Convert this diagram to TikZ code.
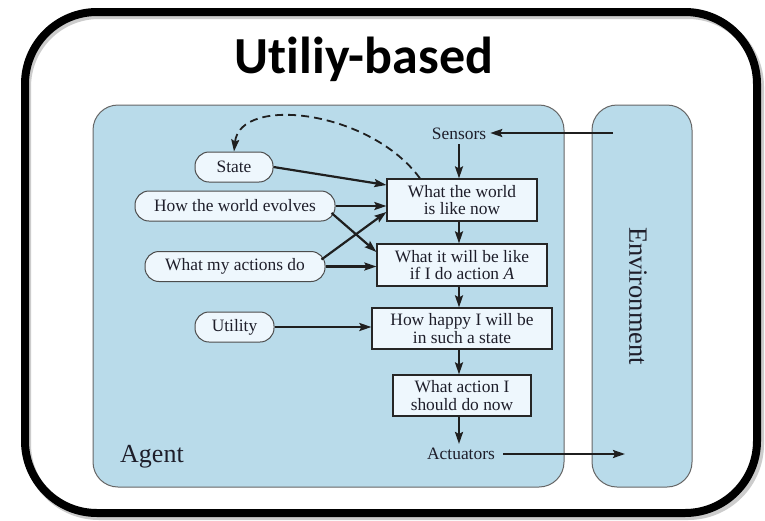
\documentclass[tikz,border=0pt]{standalone}
\usepackage{fontspec}
\setmainfont{Liberation Serif}
\newfontfamily\titlefont[Ligatures=NoCommon]{Carlito}
\usetikzlibrary{arrows.meta}
\definecolor{agentblue}{HTML}{B9DBEA}
\definecolor{nodefill}{HTML}{EEF7FD}
\definecolor{inkc}{HTML}{1E1E2A}
\tikzset{
  frame/.style={line width=8pt, rounded corners=72pt, draw=black},
  panel/.style={fill=agentblue, draw=gray!80!black, line width=1pt, rounded corners=25pt},
  pill/.style={draw=gray!60!black, fill=nodefill, line width=1pt, rounded corners=14pt,
    minimum height=30pt, inner sep=0pt, text=inkc, font=\fontsize{17.4}{18}\selectfont},
  stepbox/.style={draw=black!85, fill=nodefill, line width=1.2pt, inner sep=0pt,
    align=center, text=inkc, font=\fontsize{17.4}{17.5}\selectfont},
  plain/.style={text=inkc, font=\fontsize{17.4}{18}\selectfont, inner sep=0pt},
  arr/.style={-{Stealth[length=12pt,width=8pt,inset=2pt]}, line width=2.2pt, draw=black!88},
  darr/.style={-{Stealth[length=12pt,width=8pt,inset=2pt]}, line width=1.8pt, draw=black!88, dash pattern=on 8pt off 5pt}
}
\begin{document}
\begin{tikzpicture}[x=1pt,y=-1pt]
\useasboundingbox (0,0) rectangle (765,520);
\fill[white] (0,0) rectangle (765,520);
% outer frame with faint shadow
\draw[line width=8pt, rounded corners=72pt, draw=black!20] (27,15) rectangle (760,516);
\draw[frame] (25,12) rectangle (757,513);
\node[font=\titlefont\bfseries\fontsize{52}{56}\selectfont, anchor=base, inner sep=0pt] (title) at (364,73) {Utiliy-based};

% panels
\draw[panel] (93,105) rectangle (564,487);
\draw[panel] (592,105) rectangle (692,487);
\node[plain, font=\fontsize{26}{28}\selectfont, anchor=base west] (agent) at (120,462) {Agent};
\node[plain, font=\fontsize{26.4}{28}\selectfont, rotate=-90] (env) at (638,296) {Environment};

% right column
\node[plain, inner sep=4pt] (sensors) at (459,134) {Sensors};
\node[stepbox, minimum width=150pt, minimum height=42pt] (world) at (462,200) {What the world\\is like now};
\node[stepbox, minimum width=170pt, minimum height=42pt] (willbe) at (462,265) {What it will be like\\if I do action \textit{A}};
\node[stepbox, minimum width=180pt, minimum height=41pt] (happy) at (462,328.5) {How happy I will be\\in such a state};
\node[stepbox, minimum width=138pt, minimum height=41pt] (act) at (462,395.5) {What action I\\should do now};
\node[plain, inner sep=4pt] (actuators) at (461,454) {Actuators};

% left pills
\node[pill, minimum width=78pt] (state) at (234,167) {State};
\node[pill, minimum width=200pt] (evolves) at (235,206) {How the world evolves};
\node[pill, minimum width=180pt] (actions) at (235,266.5) {What my actions do};
\node[pill, minimum width=79pt] (utility) at (234.5,327) {Utility};

\coordinate (envin) at (613,133);
\coordinate (envout) at (625,456);

% connectors
\draw[arr] (envin) -- (sensors.east |- envin);
\draw[arr] (sensors.south) -- (world.north -| sensors.south);
\draw[arr] (world.south -| sensors.south) -- (willbe.north -| sensors.south);
\draw[arr] (willbe.south -| sensors.south) -- (happy.north -| sensors.south);
\draw[arr] (happy.south -| sensors.south) -- (act.north -| sensors.south);
\draw[arr] (act.south -| sensors.south) -- (actuators.north -| sensors.south);
\draw[arr] ([xshift=4pt]actuators.east) -- (actuators.east -| envout);

\draw[arr] (state.east) -- ([yshift=15pt]world.west);
\draw[arr] (evolves.east) -- (world.west |- evolves.east);
\draw[arr] ([xshift=-4pt,yshift=-7pt]evolves.east) -- ([yshift=13pt]willbe.west);
\draw[arr] ([xshift=-4pt,yshift=7pt]actions.east) -- ([yshift=-12pt]world.west);
\draw[arr] (actions.east) -- (willbe.west |- actions.east);
\draw[arr] (utility.east) -- (happy.west |- utility.east);

\draw[darr] ([xshift=-42pt]world.north) .. controls (370,110) and (240,95) .. (state.north);
\end{tikzpicture}
\end{document}
